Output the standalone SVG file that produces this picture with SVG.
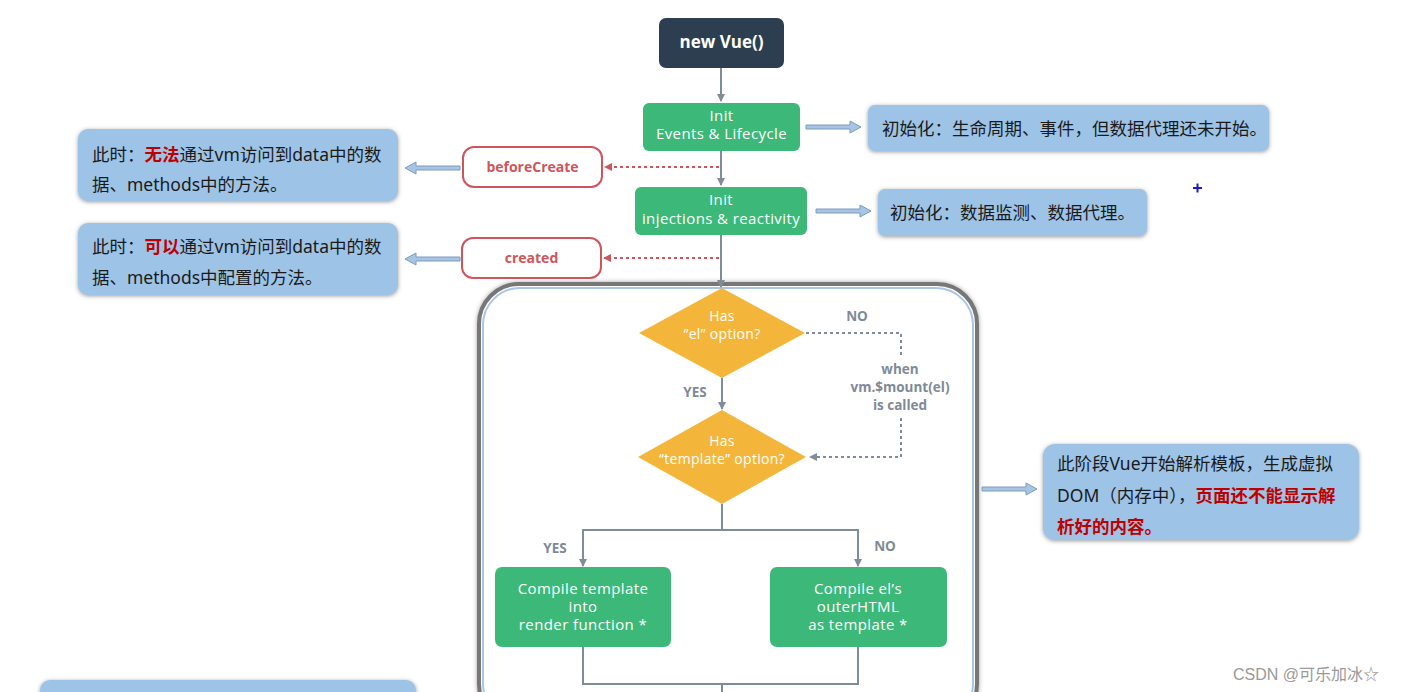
<svg xmlns="http://www.w3.org/2000/svg" width="1413" height="692" viewBox="0 0 1413 692">
<defs>
<style>
.lbl{font-family:"Open Sans","Noto Sans",sans-serif;fill:#fff;font-size:15px;letter-spacing:0.4px;text-anchor:middle}
.dl{font-family:"Open Sans","Noto Sans",sans-serif;fill:#fff;font-size:14px;letter-spacing:0.3px;text-anchor:middle}
.t{font-family:"Open Sans","Noto Sans","Noto Sans CJK SC",sans-serif}
.note{fill:#9dc3e6;filter:url(#sh)}
.ntxt{font-family:"Noto Sans","Noto Sans CJK SC",sans-serif;font-size:17.5px;fill:#1a1a1a}
.red{fill:#c00000;font-weight:bold}
.green{fill:#3cb878}
.dia{fill:#f4b63a}
.hook{fill:#fff;stroke:#d0545b;stroke-width:2}
.hooktxt{font-family:"Open Sans","Noto Sans",sans-serif;font-size:14px;font-weight:bold;fill:#d0545b;text-anchor:middle}
.line{stroke:#7f8c99;stroke-width:2;fill:none}
.dot{stroke:#7f8c99;stroke-width:2;fill:none;stroke-dasharray:3 3}
.rdot{stroke:#d0545b;stroke-width:2;fill:none;stroke-dasharray:3 3}
.gl{font-family:"Open Sans","Noto Sans",sans-serif;font-size:13.5px;font-weight:bold;fill:#7e8a96;text-anchor:middle}
.fat{fill:#a7c4e2;stroke:#7d9cc0;stroke-width:1}
</style>
<filter id="sh" x="-10%" y="-20%" width="120%" height="150%">
<feDropShadow dx="0" dy="1" stdDeviation="2" flood-color="#555" flood-opacity="0.6"/>
</filter>
<filter id="sh2" x="-10%" y="-10%" width="120%" height="120%">
<feDropShadow dx="0" dy="0" stdDeviation="2" flood-color="#444" flood-opacity="0.5"/>
</filter>
<marker id="ag" markerWidth="8" markerHeight="8" refX="7" refY="4" orient="auto" markerUnits="userSpaceOnUse">
<path d="M0,0 L8,4 L0,8 Z" fill="#7f8c99"/>
</marker>
<marker id="ar" markerWidth="8" markerHeight="8" refX="7" refY="4" orient="auto" markerUnits="userSpaceOnUse">
<path d="M0,0 L8,4 L0,8 Z" fill="#d0545b"/>
</marker>
</defs>
<rect width="1413" height="692" fill="#fff"/>

<g id="container">
<rect x="479" y="284" width="498" height="440" rx="40" fill="#fff" stroke="#777" stroke-width="4" filter="url(#sh2)"/>
<rect x="483" y="288" width="490" height="432" rx="37" fill="none" stroke="#a9c6e6" stroke-width="2"/>
</g>

<g id="connectors">
<line class="line" x1="721" y1="68" x2="721" y2="101" marker-end="url(#ag)"/>
<line class="line" x1="721" y1="151" x2="721" y2="185" marker-end="url(#ag)"/>
<line class="line" x1="721" y1="235" x2="721" y2="287" marker-end="url(#ag)"/>
<line class="rdot" x1="719" y1="167" x2="605" y2="167" marker-end="url(#ar)"/>
<line class="rdot" x1="719" y1="258" x2="604" y2="258" marker-end="url(#ar)"/>
<line class="line" x1="722" y1="378" x2="722" y2="409" marker-end="url(#ag)"/>
<polyline class="dot" points="806,333 901,333 901,357"/>
<polyline class="dot" points="901,418 901,457 810,457" marker-end="url(#ag)"/>
<line class="line" x1="722" y1="504" x2="722" y2="530"/>
<polyline class="line" points="583,566 583,530 858,530 858,566" />
<line class="line" x1="583" y1="556" x2="583" y2="566" marker-end="url(#ag)"/>
<line class="line" x1="858" y1="556" x2="858" y2="566" marker-end="url(#ag)"/>
<polyline class="line" points="583,647 583,684 858,684 858,647"/>
<line class="line" x1="722" y1="684" x2="722" y2="692"/>
<path class="fat" d="M806,125 L850,125 L850,121 L861,127 L850,133 L850,129 L806,129 Z"/>
<path class="fat" d="M816,209 L860,209 L860,205 L871,211 L860,217 L860,213 L816,213 Z"/>
<path class="fat" d="M460,166 L416,166 L416,162 L405,168 L416,174 L416,170 L460,170 Z"/>
<path class="fat" d="M460,257 L416,257 L416,253 L405,259 L416,265 L416,261 L460,261 Z"/>
<path class="fat" d="M982,487 L1026,487 L1026,483 L1037,489 L1026,495 L1026,491 L982,491 Z"/>
</g>

<g id="newvue">
<rect x="659" y="18" width="125" height="50" rx="7" fill="#2c3e50"/>
<text class="t" x="721.5" y="48" font-size="17" font-weight="bold" fill="#fff" text-anchor="middle">new Vue()</text>
</g>
<g id="initEvents">
<rect class="green" x="643" y="103" width="157" height="48" rx="6"/>
<text class="lbl" x="721.5" y="121">Init</text>
<text class="lbl" x="721.5" y="139">Events &amp; Lifecycle</text>
</g>
<g id="initInjections">
<rect class="green" x="635" y="187" width="172" height="48" rx="6"/>
<text class="lbl" x="721" y="205">Init</text>
<text class="lbl" x="721" y="224">injections &amp; reactivity</text>
</g>
<g id="beforeCreate">
<rect class="hook" x="463" y="147" width="139" height="40" rx="11"/>
<text class="hooktxt" x="532.5" y="172">beforeCreate</text>
</g>
<g id="created">
<rect class="hook" x="462" y="238" width="139" height="40" rx="11"/>
<text class="hooktxt" x="531.5" y="263">created</text>
</g>

<g id="note1">
<rect class="note" x="78" y="129" width="320" height="72" rx="10"/>
<text class="ntxt" x="92" y="161">此时：<tspan class="red">无法</tspan>通过vm访问到data中的数</text>
<text class="ntxt" x="92" y="191">据、methods中的方法。</text>
</g>
<g id="note2">
<rect class="note" x="78" y="223" width="320" height="72" rx="10"/>
<text class="ntxt" x="92" y="253">此时：<tspan class="red">可以</tspan>通过vm访问到data中的数</text>
<text class="ntxt" x="92" y="284">据、methods中配置的方法。</text>
</g>
<g id="note3">
<rect class="note" x="868" y="105" width="401" height="46" rx="7"/>
<text class="ntxt" x="882" y="135">初始化：生命周期、事件，但数据代理还未开始。</text>
</g>
<g id="note4">
<rect class="note" x="878" y="189" width="269" height="47" rx="7"/>
<text class="ntxt" x="890" y="219">初始化：数据监测、数据代理。</text>
</g>
<g id="note5">
<rect class="note" x="1043" y="444" width="316" height="96" rx="12"/>
<text class="ntxt" x="1057" y="470">此阶段Vue开始解析模板，生成虚拟</text>
<text class="ntxt" x="1057" y="502">DOM（内存中），<tspan class="red">页面还不能显示解</tspan></text>
<text class="ntxt red" x="1057" y="533">析好的内容。</text>
</g>
<g id="note6">
<rect class="note" x="40" y="680" width="376" height="40" rx="10"/>
</g>

<g id="hasEl">
<polygon class="dia" points="722,288 805,333 722,378 639,333"/>
<text class="dl" x="722" y="321">Has</text>
<text class="dl" x="722" y="339">“el” option?</text>
</g>
<g id="hasTemplate">
<polygon class="dia" points="722,410 806,457 722,504 638,457"/>
<text class="dl" x="722" y="446">Has</text>
<text class="dl" x="722" y="464">“template” option?</text>
</g>
<g id="labels">
<text class="gl" x="857" y="321">NO</text>
<text class="gl" x="695" y="397">YES</text>
<text class="gl" x="900" y="374">when</text>
<text class="gl" x="900" y="392">vm.$mount(el)</text>
<text class="gl" x="900" y="410">is called</text>
<text class="gl" x="555" y="553">YES</text>
<text class="gl" x="885" y="551">NO</text>
</g>
<g id="compileTemplate">
<rect class="green" x="495" y="567" width="176" height="80" rx="7"/>
<text class="lbl" x="583" y="594">Compile template</text>
<text class="lbl" x="583" y="612">into</text>
<text class="lbl" x="583" y="630">render function *</text>
</g>
<g id="compileEl">
<rect class="green" x="770" y="567" width="177" height="80" rx="7"/>
<text class="lbl" x="858" y="594">Compile el’s</text>
<text class="lbl" x="858" y="612">outerHTML</text>
<text class="lbl" x="858" y="630">as template *</text>
</g>
<path d="M1193,188 h9 M1197.5,183.5 v9" stroke="#1a1acc" stroke-width="2"/>
<text x="1233" y="680" font-family="'Liberation Sans','Noto Sans CJK SC',sans-serif" font-size="16" fill="#999">CSDN @可乐加冰☆</text>
</svg>
